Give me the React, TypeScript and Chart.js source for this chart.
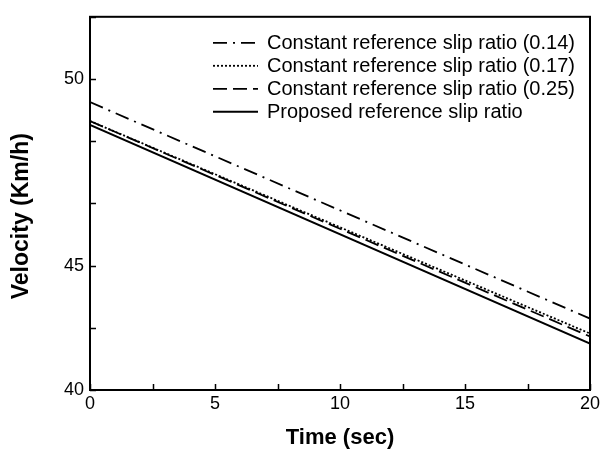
import React, { useEffect, useRef } from 'react';
import { Chart, registerables } from 'chart.js';

Chart.register(...registerables);

// ---- data ----
const timeSec = [0, 20];
const slip014 = [51.57, 42.87];
const slip017 = [50.81, 42.27];
const slip025 = [50.81, 42.15];
const proposed = [50.65, 41.87];

const seriesLabels = [
  'Constant reference slip ratio (0.14)',
  'Constant reference slip ratio (0.17)',
  'Constant reference slip ratio (0.25)',
  'Proposed reference slip ratio',
];

// y tick labels as printed on the reference axis (ticks every 2.5 units)
const yTickValues = [40, 42.5, 45, 47.5, 50, 52.5, 55];
const yTickText = ['40', '', '45', '', '', '50', ''];
const xTickValues = [0, 2.5, 5, 7.5, 10, 12.5, 15, 17.5, 20];

const FONT = "'Liberation Sans', Arial, sans-serif";

const framePlugin = {
  id: 'frameAndTicks',
  afterDraw(chart: any) {
    const { ctx, chartArea } = chart;
    const xs = chart.scales.x;
    const ys = chart.scales.y;
    ctx.save();
    ctx.strokeStyle = '#000';
    ctx.lineWidth = 1.5;
    ctx.beginPath();
    xTickValues.forEach((v) => {
      const px = Math.round(xs.getPixelForValue(v)) + 0.5;
      ctx.moveTo(px, chartArea.bottom);
      ctx.lineTo(px, chartArea.bottom - 6);
    });
    yTickValues.forEach((v) => {
      const py = Math.round(ys.getPixelForValue(v)) + 0.5;
      ctx.moveTo(chartArea.left, py);
      ctx.lineTo(chartArea.left + 6, py);
    });
    ctx.stroke();
    ctx.lineWidth = 2;
    ctx.strokeRect(chartArea.left, chartArea.top, chartArea.right - chartArea.left, chartArea.bottom - chartArea.top);

    // legend
    ctx.font = `20px ${FONT}`;
    ctx.textBaseline = 'middle';
    ctx.fillStyle = '#000';
    chart.data.datasets.forEach((ds: any, i: number) => {
      const y = chartArea.top + 26 + i * 23;
      const x0 = chartArea.left + 123;
      ctx.beginPath();
      ctx.lineWidth = ds.borderWidth;
      ctx.setLineDash(ds.borderDash || []);
      ctx.moveTo(x0, y);
      ctx.lineTo(x0 + 45, y);
      ctx.stroke();
      ctx.setLineDash([]);
      ctx.fillText(ds.label, x0 + 54, y + 1);
    });
    ctx.restore();
  },
};

export default function App() {
  const ref = useRef<HTMLCanvasElement | null>(null);
  useEffect(() => {
    document.body.style.margin = '0';
    if (!ref.current) return;
    const mk = (label: string, ys: number[], dash: number[], w: number) => ({
      label,
      data: timeSec.map((t, i) => ({ x: t, y: ys[i] })),
      borderColor: '#000',
      borderWidth: w,
      borderDash: dash,
      pointRadius: 0,
      fill: false,
    });
    const chart = new Chart(ref.current, {
      type: 'line',
      data: {
        datasets: [
          mk(seriesLabels[0], slip014, [14, 6, 2, 6], 1.8),
          mk(seriesLabels[1], slip017, [2, 2], 1.8),
          mk(seriesLabels[2], slip025, [14, 6], 1.8),
          mk(seriesLabels[3], proposed, [], 2),
        ],
      },
      options: {
        animation: false,
        responsive: false,
        devicePixelRatio: 1,
        layout: { padding: { top: 14, right: 0, left: 0, bottom: 0 } },
        plugins: { legend: { display: false }, tooltip: { enabled: false } },
        scales: {
          x: {
            type: 'linear',
            min: 0,
            max: 20,
            grid: { display: false, drawTicks: false },
            border: { display: false },
            ticks: { stepSize: 5, color: '#000', padding: 3, font: { family: FONT, size: 18 } },
            title: {
              display: true,
              text: 'Time (sec)',
              color: '#000',
              font: { family: FONT, size: 22, weight: 'bold' },
              padding: { top: 0, bottom: 0 },
            },
            afterFit: (s: any) => { s.height = 61; s.paddingRight = 10; s.paddingLeft = 0; },
          },
          y: {
            type: 'linear',
            min: 40,
            max: 55,
            grid: { display: false, drawTicks: false },
            border: { display: false },
            afterBuildTicks: (s: any) => { s.ticks = yTickValues.map((v) => ({ value: v })); },
            ticks: {
              color: '#000',
              padding: 6,
              font: { family: FONT, size: 18 },
              callback: (v: any) => {
                const idx = yTickValues.indexOf(Number(v));
                return idx >= 0 ? yTickText[idx] : '';
              },
            },
            title: {
              display: true,
              text: 'Velocity (Km/h)    ',
              color: '#000',
              font: { family: FONT, size: 23, weight: 'bold' },
              padding: { top: 8, bottom: 0 },
            },
            afterFit: (s: any) => { s.width = 90; },
          },
        },
      },
      plugins: [framePlugin],
    });
    return () => chart.destroy();
  }, []);
  return (
    <div style={{ width: 600, height: 451 }}>
      <canvas ref={ref} width={600} height={451} />
    </div>
  );
}
